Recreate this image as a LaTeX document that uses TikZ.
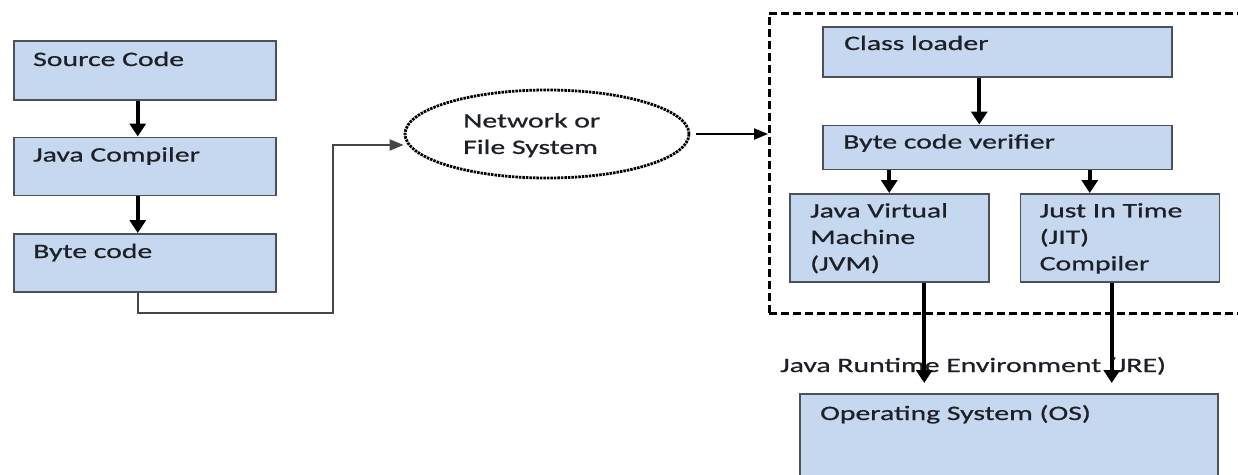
\documentclass[tikz,border=0pt]{standalone}
\usepackage{fontspec}
\setmainfont{Carlito}[FakeStretch=1.45, FakeBold=0.8]
\usetikzlibrary{positioning, arrows.meta, shapes.geometric}
\definecolor{boxfill}{RGB}{198,216,240}
\definecolor{boxline}{RGB}{75,80,90}
\definecolor{inktext}{RGB}{30,32,40}
\definecolor{linkgrey}{RGB}{70,70,70}

\begin{document}
\begin{tikzpicture}[x=1pt, y=-1pt,
    block/.style={draw=boxline, line width=1.5pt, fill=boxfill, anchor=north west, inner sep=0pt},
    lbl/.style={anchor=base west, inner sep=0pt, text=inktext, font=\fontsize{20.5}{26.5}\selectfont},
    mlbl/.style={lbl, anchor=north west, align=left},
    region/.style={draw, line width=2.5pt, dash pattern=on 8pt off 4pt, anchor=north west, inner sep=0pt},
    flow/.style={-{Triangle[width=16pt,length=13pt]}, line width=4pt},
    link/.style={-{Triangle[width=11pt,length=14pt]}, line width=2pt},
    ]
    \useasboundingbox (0,0) rectangle (1238,474);

    % compile side
    \node[block, minimum width=262pt, minimum height=59pt] (src) at (13,40) {};
    \node[block, minimum width=262pt, minimum height=58pt, below=36pt of src] (comp) {};
    \node[block, minimum width=262pt, minimum height=58pt, below=37pt of comp] (byte) {};
    \node[lbl] (srct) at ([shift={(20,26)}]src.north west) {Source Code};
    \node[lbl] (compt) at ([shift={(20,25)}]comp.north west) {Java Compiler};
    \node[lbl] (bytet) at ([shift={(20,25)}]byte.north west) {Byte code};

    % transport
    \node[ellipse, draw, line width=2.8pt, dash pattern=on 2.5pt off 1pt,
          minimum width=284pt, minimum height=88pt, inner sep=0pt] (net) at (547,134) {};
    \node[mlbl] (nett) at ([shift={(-84,-21)}]net.center) {Network or\\File System};
    \coordinate (bend) at (333,313);

    % run-time side
    \node[region, minimum width=520pt, minimum height=300pt] (jre) at (768,12) {};
    \node[block, minimum width=349pt, minimum height=50pt] (loader) at (822,26) {};
    \node[block, minimum width=349pt, minimum height=44pt, below=47pt of loader] (verif) {};
    \node[block, minimum width=199pt, minimum height=88pt] (jvm) at (789,193) {};
    \node[block, minimum width=199pt, minimum height=88pt, right=30pt of jvm] (jit) {};
    \node[block, minimum width=418pt, minimum height=120pt] (os) at (799,393) {};
    \node[lbl] (loadert) at ([shift={(22,24)}]loader.north west) {Class loader};
    \node[lbl] (veriftt) at ([shift={(21,24)}]verif.north west) {Byte code verifier};
    \node[mlbl] (jvmt) at ([shift={(21,10)}]jvm.north west) {Java Virtual\\Machine\\(JVM)};
    \node[mlbl] (jitt) at ([shift={(20,10)}]jit.north west) {Just In Time\\(JIT)\\Compiler};
    \node[lbl] (ost) at ([shift={(21,27)}]os.north west) {Operating System (OS)};
    \node[lbl] (jrelbl) at (780,372) {Java Runtime Environment (JRE)};

    % arrows
    \draw[flow] ([xshift=-7pt]src.south) -- ([xshift=-7pt]comp.north);
    \draw[flow] ([xshift=-7pt]comp.south) -- ([xshift=-7pt]byte.north);
    \draw[link, draw=linkgrey] ([xshift=-7pt]byte.south) |- (bend) |- ([yshift=-11pt]net.west);
    \draw[link, shorten <=6pt] (net.east) -- (net.east -| jre.west);
    \draw[flow] ([xshift=-18pt]loader.south) -- ([xshift=-18pt]loader.south |- verif.north);
    \draw[flow] (verif.south -| jvm.north) -- (jvm.north);
    \draw[flow] ([xshift=-30pt]jit.north |- verif.south) -- ([xshift=-30pt]jit.north);
    \draw[flow, shorten >=10pt] ([xshift=35pt]jvm.south) -- ([xshift=35pt]jvm.south |- os.north);
    \draw[flow, shorten >=10pt] ([xshift=-8pt]jit.south) -- ([xshift=-8pt]jit.south |- os.north);
\end{tikzpicture}
\end{document}
